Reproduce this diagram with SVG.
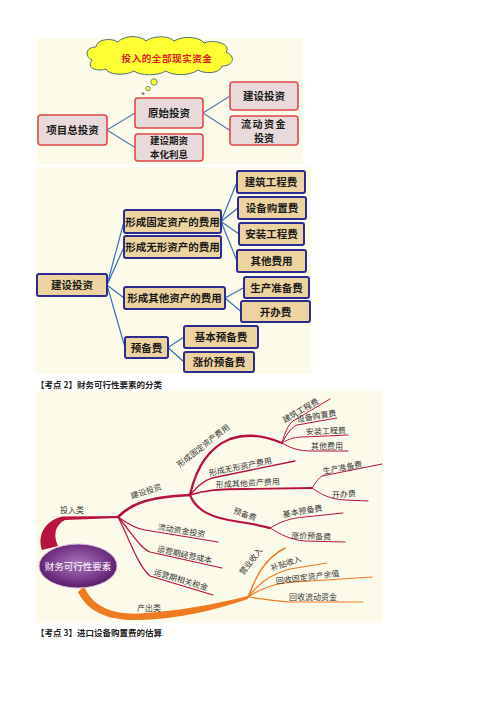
<svg xmlns="http://www.w3.org/2000/svg" width="500" height="708" viewBox="0 0 500 708">
<style>
.bg{fill:#fcfbea}
.n1 rect{fill:#e8dada;stroke:#e04848;stroke-width:1.6}
.n2 rect{fill:#edd3a0;stroke:#2b2b90;stroke-width:2}
.t1{font-family:"Noto Sans CJK SC","Liberation Sans",sans-serif;font-weight:bold;font-size:10.5px;fill:#1a1a1a;text-anchor:middle}
.c1{stroke:#5a7ab4;stroke-width:1.2;fill:none}
.c2{stroke:#3c70b8;stroke-width:1.2;fill:none}
.m{font-family:"Noto Sans CJK SC","Liberation Sans",sans-serif;font-size:8px;fill:#333;text-anchor:middle}
.r{stroke:#b8123f;fill:none;stroke-linecap:round}
.o{stroke:#ee7a22;fill:none;stroke-linecap:round}
.cap{font-family:"Noto Sans CJK SC","Liberation Serif",serif;font-weight:bold;font-size:8.5px;fill:#222}
</style>
<defs>
<radialGradient id="eg" cx="50%" cy="45%" r="60%">
<stop offset="0" stop-color="#a878b8"/>
<stop offset="0.6" stop-color="#7a3a8c"/>
<stop offset="1" stop-color="#4e1458"/>
</radialGradient>
</defs>
<rect width="500" height="708" fill="#ffffff"/>

<!-- Panel 1 -->
<rect class="bg" x="37" y="38" width="266" height="126"/>
<g id="cloud">
<path d="M92,60 C84,56 86,47 96,47 C96,40 110,37 118,42 C124,35 140,35 146,41 C154,35 170,36 174,41 C184,35 200,37 204,43 C214,39 232,44 226,52 C236,56 234,66 222,66 C220,74 204,74 198,70 C190,76 172,76 166,71 C158,76 140,76 134,71 C126,76 108,75 106,69 C96,72 86,68 92,60 Z" fill="#ffff33" stroke="#50707a" stroke-width="1"/>
<text x="167" y="62" font-family="'Noto Sans CJK SC','Liberation Sans',sans-serif" font-weight="bold" font-size="9.5" fill="#e02020" text-anchor="middle" letter-spacing="0.6">投入的全部现实资金</text>
<circle cx="154" cy="82" r="3.2" fill="#ffff33" stroke="#50707a" stroke-width="0.8"/>
<circle cx="148" cy="88.5" r="2.2" fill="#ffff33" stroke="#50707a" stroke-width="0.8"/>
<circle cx="143" cy="93.5" r="1.5" fill="#8090a0"/>
</g>
<g id="p1-connectors">
<path class="c1" d="M107,130 L135,113 M107,130 L135,147.5 M203,113 L230,96 M203,113 L230,130.5"/>
</g>
<g id="n-xmztz" class="n1"><rect x="38" y="115" width="69" height="30" rx="3"/><text class="t1" x="72.5" y="134">项目总投资</text></g>
<g id="n-ystz" class="n1"><rect x="135" y="98" width="68" height="30" rx="3"/><text class="t1" x="169" y="117">原始投资</text></g>
<g id="n-jsqzb" class="n1"><rect x="135" y="134" width="68" height="27" rx="3"/><text class="t1" x="169" y="144" style="font-size:9.5px">建设期资</text><text class="t1" x="169" y="157.5" style="font-size:9.5px">本化利息</text></g>
<g id="n-jstz1" class="n1"><rect x="230" y="82" width="68" height="28" rx="3"/><text class="t1" x="264" y="100">建设投资</text></g>
<g id="n-ldzj" class="n1"><rect x="230" y="116" width="68" height="29" rx="3"/><text class="t1" x="264" y="127.5" style="font-size:10px" letter-spacing="1.5">流动资金</text><text class="t1" x="264" y="141.5" style="font-size:10px">投资</text></g>

<!-- Panel 2 -->
<rect class="bg" x="35" y="167" width="276" height="207"/>
<g id="p2-connectors">
<path class="c2" d="M107,285 L124,221.5 M107,285 L124,247 M107,285 L124,298 M107,285 L125,347.5 M221,221.5 L237,182 M221,221.5 L238,208 M221,221.5 L239,234 M221,221.5 L237,261 M225,298 L244,287.5 M225,298 L241,311.5 M168,347.5 L184,337 M168,347.5 L184,362"/>
</g>
<g id="n-jstz2" class="n2"><rect x="37" y="274" width="70" height="22" rx="2"/><text class="t1" x="72" y="289">建设投资</text></g>
<g id="n-gdzc" class="n2"><rect x="124" y="210" width="97" height="23" rx="2"/><text class="t1" x="172.5" y="225.5">形成固定资产的费用</text></g>
<g id="n-wxzc" class="n2"><rect x="124" y="236" width="97" height="22" rx="2"/><text class="t1" x="172.5" y="251">形成无形资产的费用</text></g>
<g id="n-qtzc" class="n2"><rect x="124" y="287" width="101" height="22" rx="2"/><text class="t1" x="174.5" y="302">形成其他资产的费用</text></g>
<g id="n-ybf" class="n2"><rect x="125" y="337" width="43" height="21" rx="2"/><text class="t1" x="146.5" y="351.5">预备费</text></g>
<g id="n-jzgcf" class="n2"><rect x="237" y="171" width="68" height="22" rx="2"/><text class="t1" x="271" y="186">建筑工程费</text></g>
<g id="n-sbgzf" class="n2"><rect x="238" y="197" width="68" height="22" rx="2"/><text class="t1" x="272" y="212">设备购置费</text></g>
<g id="n-azgcf" class="n2"><rect x="239" y="223" width="65" height="22" rx="2"/><text class="t1" x="271.5" y="238">安装工程费</text></g>
<g id="n-qtfy" class="n2"><rect x="237" y="250" width="69" height="22" rx="2"/><text class="t1" x="271.5" y="265">其他费用</text></g>
<g id="n-sczbf" class="n2"><rect x="244" y="277" width="65" height="21" rx="2"/><text class="t1" x="276.5" y="291.5">生产准备费</text></g>
<g id="n-kbf" class="n2"><rect x="241" y="301" width="69" height="21" rx="2"/><text class="t1" x="275.5" y="315.5">开办费</text></g>
<g id="n-jbybf" class="n2"><rect x="184" y="326" width="74" height="22" rx="2"/><text class="t1" x="221" y="341">基本预备费</text></g>
<g id="n-zjybf" class="n2"><rect x="184" y="352" width="70" height="20" rx="2"/><text class="t1" x="219" y="366">涨价预备费</text></g>

<text class="cap" x="36" y="388">【考点 2】财务可行性要素的分类</text>

<!-- Panel 3: mind map -->
<rect class="bg" x="36" y="391" width="347" height="232" fill="#fbf8e3"/>
<g id="mm-connectors">
<path d="M42,550 C37,535 45,521 62,516.5 L118,516 L118,518 L65,520 C55,525 53,535 58,546 Z" fill="#b8123f"/>
<path d="M84,586 C92,606 112,615 140,613.5 C180,611 215,604 248,596 L248,599 C215,610 180,619 140,620 C108,621 88,612 78,592 Z" fill="#ee7a22"/>
<path class="r" stroke-width="2.6" d="M118,517 C130,505 145,497 190,495"/>
<path class="r" stroke-width="1.2" d="M118,517 C128,524 136,529 145,530 L218,542"/>
<path class="r" stroke-width="1.2" d="M118,517 C132,533 140,548 150,552 L222,568"/>
<path class="r" stroke-width="1.2" d="M118,517 C130,540 138,566 150,576 L213,595"/>
<path class="r" stroke-width="2.4" d="M190,495 C196,468 208,448 230,439 C250,432 268,437 282,443"/>
<path class="r" stroke-width="1.3" d="M190,495 C198,485 205,480 212,478 L295,461"/>
<path class="r" stroke-width="1.8" d="M190,495 C205,490 220,489 245,489 L312,488"/>
<path class="r" stroke-width="2.2" d="M190,495 C196,510 210,518 240,522 C255,524 262,526 270,528"/>
<path class="r" stroke-width="1" d="M282,443 C285,432 288,425 293,421 L330,399"/>
<path class="r" stroke-width="1" d="M282,443 C288,432 292,427 297,425 L337,418"/>
<path class="r" stroke-width="1" d="M282,443 C290,438 296,437 303,437 L348,435"/>
<path class="r" stroke-width="1" d="M282,443 C292,449 300,451 312,451 L348,451"/>
<path class="r" stroke-width="1" d="M312,488 C316,482 319,478 322,476 L382,464"/>
<path class="r" stroke-width="1" d="M312,488 C322,495 330,499 345,500 L368,501"/>
<path class="r" stroke-width="1" d="M270,528 C280,522 290,518 305,517 L343,513"/>
<path class="r" stroke-width="1" d="M270,528 C280,534 290,540 305,541 L345,542"/>
<path class="o" stroke-width="1.5" d="M248,597 C255,580 262,560 285,548"/>
<path class="o" stroke-width="1.2" d="M248,597 C258,585 268,575 290,569 L327,563"/>
<path class="o" stroke-width="1.2" d="M248,597 C262,588 275,583 295,582 L372,577"/>
<path class="o" stroke-width="1.2" d="M248,597 C262,599 275,601 290,602 L363,602"/>
</g>
<g id="mm-center">
<ellipse cx="78" cy="566" rx="39" ry="22" fill="url(#eg)" stroke="#d8b8e0" stroke-width="1"/>
<text x="78" y="569.5" font-family="'Noto Sans CJK SC','Liberation Sans',sans-serif" font-size="9.5" fill="#ffffff" text-anchor="middle">财务可行性要素</text>
</g>
<g id="mm-labels">
<text class="m" x="72" y="513">投入类</text>
<text class="m" x="149" y="611">产出类</text>
<text class="m" transform="translate(147,494) rotate(-18)">建设投资</text>
<text class="m" transform="translate(181,533.5) rotate(9.3)">流动资金投资</text>
<text class="m" transform="translate(184,557.5) rotate(12.5)">运营期经营成本</text>
<text class="m" transform="translate(180,582.5) rotate(16.8)">运营期相关税金</text>
<text class="m" transform="translate(205,448) rotate(-38)">形成固定资产费用</text>
<text class="m" transform="translate(241,469.5) rotate(-11.6)">形成无形资产费用</text>
<text class="m" transform="translate(248,486) rotate(-3)">形成其他资产费用</text>
<text class="m" transform="translate(244,517) rotate(20)">预备费</text>
<text class="m" transform="translate(302,413) rotate(-30)">建筑工程费</text>
<text class="m" transform="translate(317,419) rotate(-10)">设备购置费</text>
<text class="m" transform="translate(326,434) rotate(-2)">安装工程费</text>
<text class="m" transform="translate(327,449)">其他费用</text>
<text class="m" transform="translate(343,470.5) rotate(-11)">生产准备费</text>
<text class="m" transform="translate(344,497) rotate(-3)">开办费</text>
<text class="m" transform="translate(303,514) rotate(-10)">基本预备费</text>
<text class="m" transform="translate(311,539) rotate(2)">涨价预备费</text>
<text class="m" transform="translate(253,563) rotate(-52)">营业收入</text>
<text class="m" transform="translate(287,566) rotate(-18)">补贴收入</text>
<text class="m" transform="translate(308,580) rotate(-7)">回收固定资产余值</text>
<text class="m" transform="translate(313,600)">回收流动资金</text>
</g>

<text class="cap" x="36" y="636">【考点 3】进口设备购置费的估算</text>
</svg>
